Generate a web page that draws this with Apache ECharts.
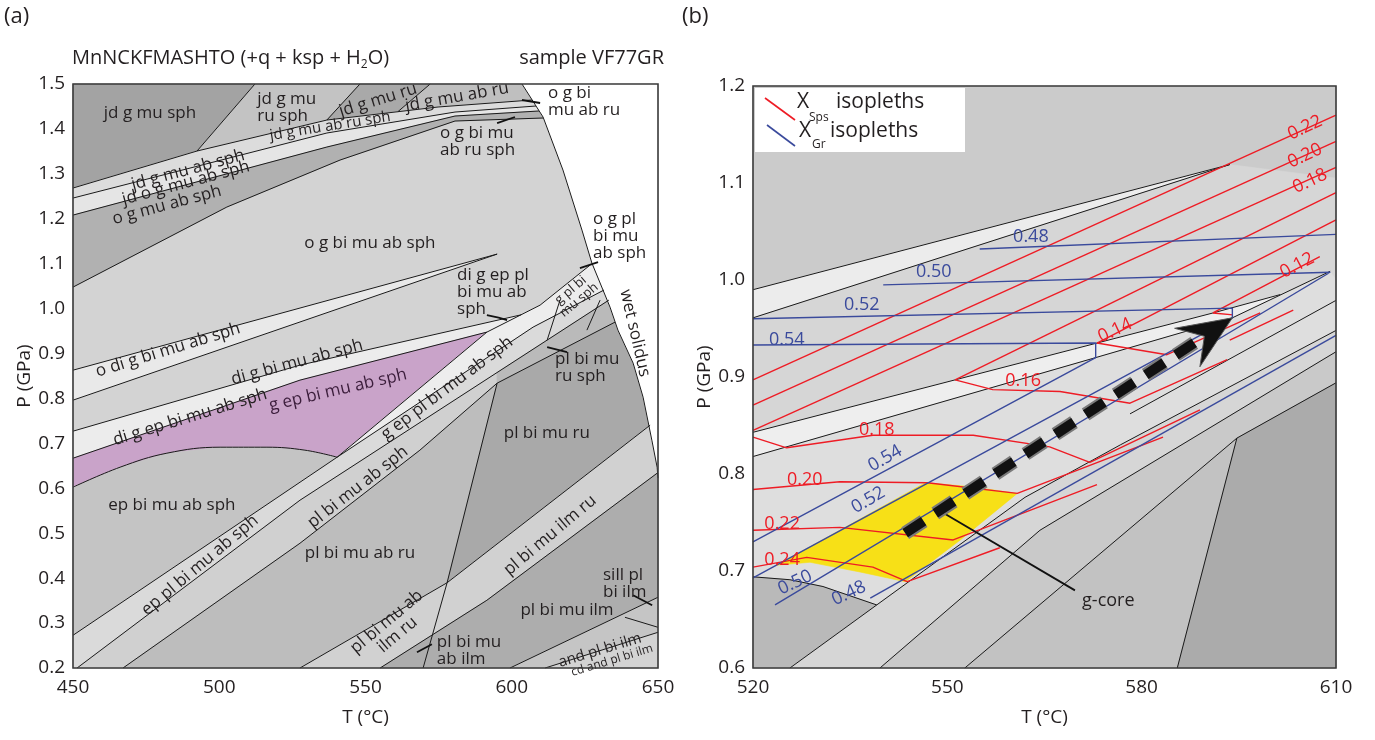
<!DOCTYPE html>
<html><head><meta charset="utf-8">
<script src="https://cdn.jsdelivr.net/npm/echarts@6/dist/echarts.min.js"></script>
<style>html,body{margin:0;padding:0;background:#fff}#c{width:1375px;height:740px}</style>
</head><body><div id="c"></div>
<script>
// ================= DATA (T in °C, P in GPa) =================
// ---- axis ticks ----
const aTTicks = [450, 500, 550, 600, 650];
const bTTicks = [520, 550, 580, 610];

// ---- panel (a) field boundaries ----
const aSolidus = [[603.5,1.5],[610.7,1.4265],[617.5,1.3085],[624.0,1.1748],[627.4,1.1013],[633.6,1.0033],[636.3,0.9521],[641.5,0.8786],[644.9,0.8029],[647.9,0.7071],[649.7,0.647],[650,0.6225]];
const aT1 = [[450,1.2684],[492.4,1.3508],[536.8,1.4198],[574.8,1.4488],[606.9,1.4644]];
const aT2 = [[450,1.2461],[536.8,1.3909],[580.6,1.4376],[608.3,1.451]];
const aT3 = [[450,1.2082],[536.8,1.3597],[580.6,1.4287],[609.3,1.4399]];
const aT4 = [[450,1.0479],[502.6,1.2261],[541.3,1.3307],[580.6,1.4176],[610.7,1.4243]];
const aD1 = [[512.2,1.5],[492.4,1.3508]];
const aD2 = [[548.1,1.5],[536.8,1.4198]];
const aD3 = [[572.1,1.5],[561.1,1.4385]];
const aWedgeTop = [[450,0.863],[595,1.1214]];
const aWedgeBot = [[450,0.7962],[595,1.1214]];
const aBandTop = [[450,0.7272],[527.6,0.8742],[603.2,0.9862]];
const aPurpleTop = [[450,0.667],[527.6,0.8408],[591.5,0.9477]];
const aPurpleCurve = [[450,0.6025],[466.1,0.647],[482.1,0.6782],[500.3,0.6915],[516.3,0.6915],[529.3,0.6849],[540.3,0.6693]];
const aUa = [[540.3,0.6693],[591.5,0.9477],[609.7,1.0078],[626.8,1.0969]];
const aUb = [[450,0.2728],[540.3,0.6693],[607.3,0.9588],[631.5,1.0412]];
const aDg2 = [[451.4,0.2],[527.6,0.5735],[633.2,1.0189]];
const aDg3 = [[467.1,0.2],[527.6,0.4777],[568.6,0.6849],[595,0.8341],[635.3,0.9699]];
const aV = [[595,0.8341],[577.9,0.3898],[569.7,0.2]];
const aE1 = [[527.6,0.2],[577.9,0.3898],[647.3,0.7405]];
const aE2 = [[555,0.2],[591.5,0.3508],[649.7,0.6336]];
const aE3 = [[599.4,0.2],[650,0.3575]];
const aE4 = [[611.4,0.2],[650,0.2795]];
const aE5 = [[638.7,0.3129],[650,0.2906]];
const aG1 = [[612.1,0.9298],[616.5,1.0189]];
const aG2 = [[625.7,0.9521],[630.2,1.0189]];
const aLeaders = [
  [[603.5,1.4644],[609.7,1.4577]],
  [[595,1.4131],[601.1,1.4265]],
  [[623.3,1.0902],[629.5,1.1036]],
  [[591.5,0.9855],[595.5,0.9800],[598.4,0.9744]],
  [[612.1,0.9142],[618.9,0.9031]],
  [[567.6,0.235],[572.7,0.2528]],
  [[641.5,0.362],[648,0.3396]]
];

// ---- panel (a) fields (polygons) ----
const aFieldBase = [[450,0.2],[650,0.2],[650,1.5],[450,1.5]];
const aFieldJdSph = [[450,1.5],[512.2,1.5],[492.4,1.3508],[450,1.2684]];
const aFieldJdRuSph = [[512.2,1.5],[548.1,1.5],[536.8,1.4198],[492.4,1.3508]];
const aFieldJdRu = [[548.1,1.5],[572.1,1.5],[561.1,1.4385],[536.8,1.4198]];
const aFieldJdAbRu = [[572.1,1.5],[603.5,1.5],[606.9,1.4644],[574.8,1.4488],[561.1,1.4385]];
const aFieldT12 = [[450,1.2684],[492.4,1.3508],[536.8,1.4198],[574.8,1.4488],[606.9,1.4644],[608.3,1.451],[580.6,1.4376],[536.8,1.3909],[450,1.2461]];
const aFieldT23 = [[450,1.2461],[536.8,1.3909],[580.6,1.4376],[608.3,1.451],[609.3,1.4399],[580.6,1.4287],[536.8,1.3597],[450,1.2082]];
const aFieldOGMu = [[450,1.2082],[536.8,1.3597],[580.6,1.4287],[609.3,1.4399],[610.7,1.4243],[580.6,1.4176],[541.3,1.3307],[502.6,1.2261],[450,1.0479]];
const aFieldWedge = [[450,0.863],[595,1.1214],[450,0.7962]];
const aFieldDiGEp = [[450,0.7272],[527.6,0.8742],[603.2,0.9862],[591.5,0.9477],[527.6,0.8408],[450,0.667]];
const aFieldPurple = [[450,0.667],[527.6,0.8408],[591.5,0.9477],[540.3,0.6693],[529.3,0.6849],[516.3,0.6915],[500.3,0.6915],[482.1,0.6782],[466.1,0.647],[450,0.6025]];
const aFieldEpBi = [[450,0.6025],[466.1,0.647],[482.1,0.6782],[500.3,0.6915],[516.3,0.6915],[529.3,0.6849],[540.3,0.6693],[450,0.2728]];
const aFieldB1 = [[540.3,0.6693],[591.5,0.9477],[609.7,1.0078],[626.8,1.0969],[650,1.0969],[650,1.0412],[631.5,1.0412],[607.3,0.9588]];
const aFieldEpPl = [[450,0.2728],[540.3,0.6693],[607.3,0.9588],[631.5,1.0412],[650,1.0412],[650,1.0189],[633.2,1.0189],[527.6,0.5735],[451.4,0.2],[450,0.2]];
const aFieldPlSph = [[451.4,0.2],[527.6,0.5735],[595,0.8578],[595,0.8341],[568.6,0.6849],[527.6,0.4777],[467.1,0.2]];
const aFieldPlRuSph = [[595,0.8578],[633.2,1.0189],[650,1.0189],[650,0.9699],[635.3,0.9699],[595,0.8341]];
const aFieldPlAbRu = [[467.1,0.2],[527.6,0.4777],[568.6,0.6849],[595,0.8341],[577.9,0.3898],[527.6,0.2]];
const aFieldPlRu = [[595,0.8341],[635.3,0.9699],[650,0.9699],[650,0.7405],[647.3,0.7405],[577.9,0.3898]];
const aFieldIlmRu = [[527.6,0.2],[577.9,0.3898],[647.3,0.7405],[650,0.7405],[650,0.6336],[649.7,0.6336],[591.5,0.3508],[555,0.2]];
const aFieldPlIlm = [[555,0.2],[591.5,0.3508],[649.7,0.6336],[650,0.6336],[650,0.3575],[599.4,0.2]];
const aFieldAnd = [[599.4,0.2],[650,0.3575],[650,0.2795],[611.4,0.2]];
const aFieldCd = [[611.4,0.2],[650,0.2795],[650,0.2]];
const aFieldMelt = aSolidus.concat([[650,1.5]]);

// ---- panel (a) field labels [text, T, P] ----
const aLabels = [
 ['jd g mu sph',476.3,1.435],['jd g mu\nru sph',513,1.447],['jd g mu ru',554.3,1.464],['jd g mu ab ru',581.3,1.471],
 ['jd g mu ab ru sph',537.9,1.406],['jd g mu ab sph',489.3,1.3085],['jd o g mu ab sph',488.6,1.2795],['o g mu ab sph',482.1,1.2305],
 ['o g bi mu ab sph',551.5,1.1459],['o g bi\nmu ab ru',612.4,1.4599],['o g bi mu\nab ru sph',575.5,1.3708],['o g pl\nbi mu\nab sph',627.8,1.1615],
 ['di g ep pl\nbi mu ab\nsph',581.3,1.0367],['g pl bi\nmu sph',621.6,1.030],['wet solidus',642.1,0.9454],['o di g bi mu ab sph',482.5,0.9076],
 ['di g bi mu ab sph',526.6,0.8808],['di g ep bi mu ab sph',490,0.7584],['g ep bi mu ab sph',540.6,0.8185],['ep bi mu ab sph',483.8,0.5624],
 ['ep pl bi mu ab sph',493.4,0.4287],['g ep pl bi mu ab sph',577.9,0.8229],['pl bi mu ab sph',547.4,0.6025],['pl bi mu ab ru',548.1,0.4555],
 ['pl bi mu\nru sph',614.8,0.8675],['pl bi mu ru',612,0.7227],['pl bi mu ilm ru',613.1,0.4956],['pl bi mu ab\nilm ru',559.1,0.2884],
 ['pl bi mu\nab ilm',574.4,0.2394],['pl bi mu ilm',618.9,0.3285],['sill pl\nbi ilm',631.2,0.3886],['and pl bi ilm',630.2,0.2394],
 ['cd and pl bi ilm',634.3,0.2171]
];

// ---- panel (b) field boundaries ----
const bK1 = [[520,0.990],[593.6,1.119]];
const bK2 = [[520,0.961],[593.6,1.119]];
const bKb0 = [[520,0.843],[591,0.966],[601.4,0.985]];
const bKb1 = [[520,0.818],[572.9,0.920],[594,0.961],[609.1,1.009]];
const bKc1 = [[520,0.694],[525.7,0.691],[530.8,0.684],[539.1,0.665]];
const bKc2 = [[525.7,0.6],[539.1,0.665],[562,0.776],[576.7,0.830],[610,0.948]];
const bKc3 = [[539.6,0.6],[564.3,0.742],[608,0.918],[610,0.926]];
const bKc4 = [[552.7,0.6],[594.7,0.837]];
const bKc5 = [[585.5,0.6],[594.7,0.837]];
const bKc6 = [[594.7,0.837],[610,0.894]];
const bKc8 = [[578.2,0.862],[610,0.979]];

// ---- panel (b) fields ----
const bFieldBase = [[520,0.6],[610,0.6],[610,1.2],[520,1.2]];
const bFieldWedge = [[520,0.990],[593.6,1.119],[520,0.961]];
const bFieldUpper = [[520,0.961],[593.6,1.119],[610,1.105],[610,0.995],[601.4,0.985],[591,0.966],[520,0.843]];
const bFieldBand = [[520,0.843],[591,0.966],[601.4,0.985],[594,0.961],[572.9,0.920],[520,0.818]];
const bFieldLower = [[520,0.818],[572.9,0.920],[594,0.961],[609.1,1.009],[610,1.0],[610,0.948],[576.7,0.830],[562,0.776],[539.1,0.665],[530.8,0.684],[525.7,0.691],[520,0.694]];
const bFieldDarkBL = [[520,0.694],[525.7,0.691],[530.8,0.684],[539.1,0.665],[525.7,0.6],[520,0.6]];
const bFieldC23 = [[525.7,0.6],[539.1,0.665],[562,0.776],[576.7,0.830],[610,0.948],[610,0.926],[608,0.918],[564.3,0.742],[539.6,0.6]];
const bFieldC34 = [[539.6,0.6],[564.3,0.742],[608,0.918],[610,0.926],[610,0.894],[594.7,0.837],[552.7,0.6]];
const bFieldC45 = [[552.7,0.6],[594.7,0.837],[585.5,0.6]];
const bFieldDarkR = [[585.5,0.6],[594.7,0.837],[610,0.894],[610,0.6]];
const bGarnetCore = [[523.7,0.706],[546.6,0.791],[553.5,0.787],[560.8,0.780],[552,0.732],[543.5,0.689],[536.5,0.699],[528.8,0.709]];

// ---- panel (b) X_Sps isopleths (red) ----
const bSps22 = [[520,0.897],[610,1.170]];
const bSps20 = [[520,0.871],[610,1.143]];
const bSps18 = [[520,0.845],[610,1.116]];
const bSps16 = [[551.2,0.897],[610,1.090]];
const bSps14 = [[573.1,0.935],[610,1.062]];
const bSps12 = [[594.1,0.964],[591,0.966],[607.5,1.024]];
const bSps18low = [[520,0.838],[525.2,0.827],[538.5,0.840],[554,0.840],[565.8,0.828],[572,0.812],[589,0.866]];
const bSps20low = [[520,0.784],[533.4,0.792],[546.9,0.791],[560.8,0.780],[583.3,0.838]];
const bSps22low = [[520,0.742],[533.4,0.745],[550.9,0.732],[573.1,0.789]];
const bSps24low = [[520,0.704],[528.3,0.714],[538.5,0.704],[543.8,0.689],[558.1,0.724]];
const bSps16low = [[551.2,0.897],[557,0.887],[567.4,0.885],[578.2,0.873],[593.2,0.918]];
const bSps14low = [[573.1,0.935],[583.9,0.923],[598.3,0.966]];
const bSpsExtra = [[593.6,0.938],[603.4,0.969]];

// ---- panel (b) X_Gr isopleths (blue) ----
const bGr48 = [[555,1.032],[610,1.047]];
const bGr50 = [[540.1,0.995],[609.1,1.008],[523.4,0.665]];
const bGr52 = [[520,0.960],[594,0.971],[594,0.961],[520,0.693]];
const bGr54 = [[520,0.933],[572.9,0.935],[572.9,0.920],[520,0.730]];
const bGr48low = [[538.1,0.672],[610,0.943]];

// ---- panel (b) P–T path and annotation ----
const bPath = [[543.5,0.739],[594.0,0.961]];
const bCoreLeader = [[548.1,0.765],[569.7,0.680]];
const bCoreLabel = [['g-core',570.8,0.669]];
const bSpsLabels = [['0.22',605.2,1.157],['0.20',605.2,1.128],['0.18',606.0,1.102],['0.12',604.0,1.015],['0.14',575.9,0.948],['0.16',561.7,0.896],['0.18',539.1,0.845],['0.20',528.0,0.794],['0.22',524.5,0.749],['0.24',524.5,0.711]];
const bGrLabels = [['0.48',562.9,1.044],['0.50',547.9,1.008],['0.52',536.8,0.974],['0.54',525.2,0.938],['0.54',540.4,0.816],['0.52',537.8,0.773],['0.50',526.5,0.688],['0.48',534.8,0.677]];

// ================= STYLE =================
const FF = '"Open Sans","Liberation Sans",sans-serif';
const INK = '#231f20', RED = '#ee1c25', BLUE = '#3a4a9c';
// [rotation deg, align, fontSize, color]
const aLabelStyle = [
 [0,'center'],[0,'left'],[17,'center'],[10,'center'],[9,'center',15],[15,'center'],[15,'center'],[15,'center'],
 [0,'center'],[0,'left'],[0,'left'],[0,'left'],[0,'left'],[40,'center',13],[-77,'center'],[17,'center'],
 [15,'center'],[17,'center'],[13,'center',17,'#3b1d3b'],[0,'center'],[40,'center'],[37,'center'],[38,'center'],[0,'center'],
 [0,'left'],[0,'center'],[40,'center'],[40,'center'],[0,'left'],[0,'center'],[0,'left'],[17,'center',15],[17,'center',12]
];
const bSpsLabelStyle = [[25],[25],[25],[28],[25],[0],[0],[0],[0],[0]];
const bGrLabelStyle = [[0],[0],[0],[0],[30],[30],[25],[25]];

const aFields = [
 [aFieldBase,'#d3d3d3'],[aFieldJdSph,'#a3a3a3'],[aFieldJdRuSph,'#c3c3c3'],[aFieldJdRu,'#a9a9a9'],[aFieldJdAbRu,'#bfbfbf'],
 [aFieldT12,'#dcdcdc'],[aFieldT23,'#e5e5e5'],[aFieldOGMu,'#b1b1b1'],[aFieldWedge,'#e9e9e9'],[aFieldDiGEp,'#ececec'],
 [aFieldPurple,'#c9a3c9'],[aFieldEpBi,'#c4c4c4'],[aFieldB1,'#ededed'],[aFieldEpPl,'#dadada'],[aFieldPlSph,'#d0d0d0'],
 [aFieldPlRuSph,'#bababa'],[aFieldPlAbRu,'#bdbdbd'],[aFieldPlRu,'#a9a9a9'],[aFieldIlmRu,'#d1d1d1'],[aFieldPlIlm,'#adadad'],
 [aFieldAnd,'#c5c5c5'],[aFieldCd,'#d3d3d3'],[aFieldMelt,'#ffffff']
];
const bFields = [
 [bFieldBase,'#cbcbcb'],[bFieldWedge,'#ececec'],[bFieldUpper,'#d6d6d6'],[bFieldBand,'#eeeeee'],[bFieldLower,'#dedede'],
 [bFieldDarkBL,'#b9b9b9'],[bFieldC23,'#d6d6d6'],[bFieldC34,'#c9c9c9'],[bFieldC45,'#c2c2c2'],[bFieldDarkR,'#ababab'],
 [bGarnetCore,'#f7e017']
];

// ================= BUILD =================
function fieldSeries(fields, gi, z){
  return {type:'custom', xAxisIndex:gi, yAxisIndex:gi, silent:true, z:z, animation:false,
    data: fields.map(f => f[0][0]),
    renderItem: (params, api) => {
      const f = fields[params.dataIndex];
      return {type:'polygon', shape:{points: f[0].map(p => api.coord(p))},
        style:{fill:f[1], stroke:f[1], lineWidth:0.6}};
    }};
}
function lineSeries(pts, gi, color, width, z, smooth){
  return {type:'line', xAxisIndex:gi, yAxisIndex:gi, data:pts, symbol:'none', showSymbol:false,
    silent:true, animation:false, smooth: smooth || false, z: z || 5,
    lineStyle:{color:color, width:width}};
}
function textSeries(labels, styles, gi, size, color, z){
  return {type:'custom', xAxisIndex:gi, yAxisIndex:gi, silent:true, z: z || 10, animation:false,
    data: labels.map(l => [l[1], l[2]]),
    renderItem: (params, api) => {
      const l = labels[params.dataIndex];
      const s = styles[params.dataIndex] || [0];
      const fs = s[2] || size;
      const p = api.coord([l[1], l[2]]);
      return {type:'text', x:p[0], y:p[1], rotation:(s[0]||0)*Math.PI/180,
        style:{text:l[0], fill:s[3]||color, font: fs + 'px ' + FF, align:s[1]||'center',
               verticalAlign:'middle', lineHeight: Math.round(fs*1.0)}};
    }};
}
function frameSeries(gi, xr, yr){
  return {type:'custom', xAxisIndex:gi, yAxisIndex:gi, silent:true, z:30, animation:false,
    data:[[xr[0], yr[0]]],
    renderItem: (params, api) => {
      const a = api.coord([xr[0], yr[1]]), b = api.coord([xr[1], yr[0]]);
      return {type:'rect', shape:{x:a[0], y:a[1], width:b[0]-a[0], height:b[1]-a[1]},
        style:{fill:'none', stroke:'#3a3a3a', lineWidth:1.6}};
    }};
}
function arrowSeries(path, gi){
  return {type:'custom', xAxisIndex:gi, yAxisIndex:gi, silent:true, z:12, animation:false,
    data:[path[0]],
    renderItem: (params, api) => {
      const p0 = api.coord(path[0]), p1 = api.coord(path[1]);
      const dx = p1[0]-p0[0], dy = p1[1]-p0[1], L = Math.hypot(dx, dy);
      const ux = dx/L, uy = dy/L, nx = -uy, ny = ux;
      const H = 54, W = 23;
      const bx = p1[0]-ux*H*0.7, by = p1[1]-uy*H*0.7;
      return {type:'group', children:[
        {type:'line', shape:{x1:p0[0], y1:p0[1], x2:bx, y2:by}, style:{stroke:'#7a7a7a', lineWidth:14, lineDash:[22,14]}},
        {type:'line', shape:{x1:p0[0], y1:p0[1], x2:bx, y2:by}, style:{stroke:'#111', lineWidth:10, lineDash:[22,14]}},
        {type:'polygon', shape:{points:[[p1[0],p1[1]],[p1[0]-ux*H+nx*W, p1[1]-uy*H+ny*W],[p1[0]-ux*H*0.62, p1[1]-uy*H*0.62],[p1[0]-ux*H-nx*W, p1[1]-uy*H-ny*W]]},
         style:{fill:'#111', stroke:'#555', lineWidth:1}}
      ]};
    }};
}

const series = [];
// panel (a)
series.push(fieldSeries(aFields, 0, 1));
[aT1,aT2,aT3,aT4,aD1,aD2,aD3,aWedgeTop,aWedgeBot,aBandTop,aPurpleTop,aUa,aUb,aDg2,aDg3,aV,aE1,aE2,aE3,aE4,aE5,aG1,aG2,aSolidus]
  .forEach(l => series.push(lineSeries(l, 0, '#1a1a1a', 1, 5)));
series.push(lineSeries(aPurpleCurve, 0, '#1a1a1a', 1, 5, 0.4));
aLeaders.forEach(l => series.push(lineSeries(l, 0, '#111', 1.8, 6)));
series.push(textSeries(aLabels, aLabelStyle, 0, 17, INK, 10));
series.push(frameSeries(0, [450,650], [0.2,1.5]));
// panel (b)
series.push(fieldSeries(bFields, 1, 1));
[bK1,bK2,bKb0,bKb1,bKc1,bKc2,bKc3,bKc4,bKc5,bKc6,bKc8].forEach(l => series.push(lineSeries(l, 1, '#1a1a1a', 1, 5)));
[bSps22,bSps20,bSps18,bSps16,bSps14,bSps12,bSps18low,bSps20low,bSps22low,bSps24low,bSps16low,bSps14low,bSpsExtra]
  .forEach(l => series.push(lineSeries(l, 1, RED, 1.4, 6)));
[bGr48,bGr50,bGr52,bGr54,bGr48low].forEach(l => series.push(lineSeries(l, 1, BLUE, 1.4, 6)));
series.push(lineSeries(bCoreLeader, 1, '#111', 1.8, 7));
series.push(arrowSeries(bPath, 1));
series.push(textSeries(bSpsLabels, bSpsLabelStyle, 1, 18, RED, 10));
series.push(textSeries(bGrLabels, bGrLabelStyle, 1, 18, BLUE, 10));
series.push(textSeries(bCoreLabel, [[0,'left']], 1, 18, INK, 10));
series.push(frameSeries(1, [520,610], [0.6,1.2]));

const axisText = {fontSize:19, color:INK, fontFamily:FF};
const option = {
  animation:false,
  backgroundColor:'#ffffff',
  grid:[
    {left:73, top:84, width:585, height:584, containLabel:false},
    {left:753, top:86, width:583, height:582, containLabel:false}
  ],
  xAxis:[
    {gridIndex:0, type:'value', min:450, max:650, interval:50,
     axisLine:{show:false}, axisTick:{show:false}, splitLine:{show:false},
     axisLabel:Object.assign({margin:10, customValues:aTTicks}, axisText),
     name:'T (°C)', nameLocation:'middle', nameGap:40, nameTextStyle:axisText},
    {gridIndex:1, type:'value', min:520, max:610,
     axisLine:{show:false}, axisTick:{show:false}, splitLine:{show:false},
     axisLabel:Object.assign({margin:10, customValues:bTTicks}, axisText),
     name:'T (°C)', nameLocation:'middle', nameGap:40, nameTextStyle:axisText}
  ],
  yAxis:[
    {gridIndex:0, type:'value', min:0.2, max:1.5, interval:0.1,
     axisLine:{show:false}, axisTick:{show:false}, splitLine:{show:false},
     axisLabel:Object.assign({margin:8, formatter:v => v.toFixed(1)}, axisText),
     name:'P (GPa)', nameLocation:'middle', nameGap:34, nameRotate:90, nameTextStyle:axisText},
    {gridIndex:1, type:'value', min:0.6, max:1.2, interval:0.1,
     axisLine:{show:false}, axisTick:{show:false}, splitLine:{show:false},
     axisLabel:Object.assign({margin:8, formatter:v => v.toFixed(1)}, axisText),
     name:'P (GPa)', nameLocation:'middle', nameGap:39, nameRotate:90, nameTextStyle:axisText}
  ],
  graphic:[
    {type:'text', left:4, top:6, z:100, style:{text:'(a)', font:'22px '+FF, fill:INK}},
    {type:'text', left:682, top:6, z:100, style:{text:'(b)', font:'22px '+FF, fill:INK}},
    {type:'text', left:72, top:48, z:100, style:{text:'MnNCKFMASHTO (+q + ksp + H{s|2}O)', font:'20px '+FF, fill:INK,
       rich:{s:{fontSize:12, fontFamily:FF, fill:INK, padding:[14,0,0,0]}}}},
    {type:'text', right:1375-664, top:48, z:100, style:{text:'sample VF77GR', font:'20px '+FF, fill:INK}},
    {type:'rect', left:755, top:88, z:100, shape:{width:210, height:64}, style:{fill:'#ffffff'}},
    {type:'line', z:101, shape:{x1:765, y1:98, x2:795, y2:120}, style:{stroke:RED, lineWidth:1.6}},
    {type:'line', z:101, shape:{x1:767, y1:125, x2:795, y2:146}, style:{stroke:BLUE, lineWidth:1.6}},
    {type:'text', left:797, top:92, z:101, style:{text:'X', font:'21px '+FF, fill:INK}},
    {type:'text', left:809, top:112, z:101, style:{text:'Sps', font:'12px '+FF, fill:INK}},
    {type:'text', left:836, top:92, z:101, style:{text:'isopleths', font:'21px '+FF, fill:INK}},
    {type:'text', left:799, top:121, z:101, style:{text:'X', font:'21px '+FF, fill:INK}},
    {type:'text', left:812, top:139, z:101, style:{text:'Gr', font:'12px '+FF, fill:INK}},
    {type:'text', left:830, top:121, z:101, style:{text:'isopleths', font:'21px '+FF, fill:INK}}
  ],
  series: series
};
const chart = echarts.init(document.getElementById('c'), null, {renderer:'canvas'});
chart.setOption(option);
</script></body></html>
